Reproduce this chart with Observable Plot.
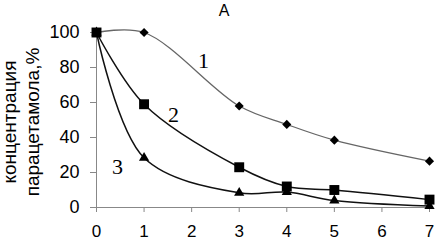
<!DOCTYPE html>
<html>
<head>
<meta charset="utf-8">
<script src="https://cdn.jsdelivr.net/npm/d3@7"></script>
<script src="https://cdn.jsdelivr.net/npm/@observablehq/plot@0.6"></script>
<style>
  html, body { margin: 0; padding: 0; background: #fff; }
</style>
</head>
<body>
<div id="chart"></div>
<script>
const times = [0, 1, 3, 4, 5, 7];
const series1 = [100, 100, 58, 47.5, 38.5, 26.5];
const series2 = [100, 59, 23, 12, 10, 4.5];
const series3 = [100, 28.4, 8.4, 8.8, 4, 0.8];
const seriesNames = ["1", "2", "3"];
const xTicks = [0, 1, 2, 3, 4, 5, 6, 7];
const yTicks = [0, 20, 40, 60, 80, 100];
const labelX = [2.25, 1.62, 0.44];
const labelY = [84, 52.6, 22.9];
const titleText = "A";
const yLabelText = "концентрация\nпарацетамола,%";

const allSeries = [series1, series2, series3];
const data = allSeries.flatMap((vals, i) =>
  vals.map((v, j) => ({ series: seriesNames[i], t: times[j], c: v }))
);
const labels = seriesNames.map((s, i) => ({ s, x: labelX[i], y: labelY[i] }));

const lineColor = { "1": "#666", "2": "#111", "3": "#111" };
const lineWidth = { "1": 1.3, "2": 1.5, "3": 1.5 };

const chart = Plot.plot({
  width: 435,
  height: 241,
  marginLeft: 96,
  marginRight: 6,
  marginTop: 32,
  marginBottom: 34,
  style: { fontFamily: "'Liberation Sans', Arial, sans-serif", background: "#fff", color: "#000", fontSize: "17px" },
  x: { domain: [0, 7] },
  y: { domain: [0, 100] },
  marks: [
    Plot.ruleY([0], { stroke: "#888", strokeWidth: 1 }),
    Plot.ruleX([0], { stroke: "#888", strokeWidth: 1 }),
    Plot.axisX({ ticks: xTicks, tickSize: 5, tickPadding: 12, fontSize: 17, stroke: "#888", fill: "#000", label: null, tickFormat: d => String(d) }),
    Plot.axisY({ ticks: yTicks, tickSize: 6, tickPadding: 11, fontSize: 18, stroke: "#888", fill: "#000", label: null, tickFormat: d => String(d) }),
    ...seriesNames.map(s =>
      Plot.line(data.filter(d => d.series === s), {
        x: "t", y: "c", curve: "catmull-rom",
        stroke: lineColor[s], strokeWidth: lineWidth[s]
      })
    ),
    Plot.dot(data.filter(d => d.series === "1"), { x: "t", y: "c", symbol: "diamond2", r: 4.1, fill: "#000", stroke: "none" }),
    Plot.dot(data.filter(d => d.series === "2"), { x: "t", y: "c", symbol: "square", r: 5.6, fill: "#000", stroke: "none" }),
    Plot.dot(data.filter(d => d.series === "3"), { x: "t", y: "c", symbol: "triangle", r: 3.8, fill: "#000", stroke: "none" }),
    Plot.text(labels, { x: "x", y: "y", text: "s", fontFamily: "'Liberation Serif', 'Times New Roman', serif", fontSize: 22, fill: "#000" }),
    Plot.text([titleText], { frameAnchor: "top", dx: -39, dy: -22, lineAnchor: "middle", fontSize: 16, fill: "#000" }),
    Plot.text([yLabelText], { frameAnchor: "left", dx: -76, dy: 2, rotate: -90, textAnchor: "middle", lineAnchor: "middle", lineHeight: 1.2, fontSize: 19, fill: "#000" })
  ]
});
document.getElementById("chart").appendChild(chart);
</script>
</body>
</html>
